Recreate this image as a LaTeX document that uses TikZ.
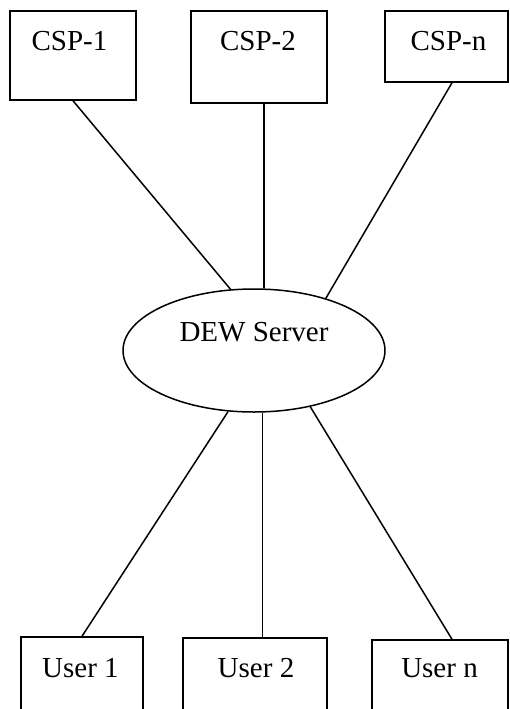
\documentclass[tikz,border=0pt]{standalone}
\usepackage{fontspec}
\setmainfont{Liberation Serif}
\usetikzlibrary{shapes.geometric}
\begin{document}
\begin{tikzpicture}[x=1pt,y=-1pt,
  line width=1.5pt,
  box/.style={draw, rectangle, inner sep=0pt, line width=1.5pt},
  lbl/.style={anchor=base, inner sep=0pt, font=\fontsize{29}{34}\selectfont},
  link/.style={line width=1.5pt}]
\useasboundingbox (0,0) rectangle (510,709);
\clip (0,0) rectangle (510,709);
% top boxes
\node[box, minimum width=126pt, minimum height=89pt] (c1) at (73,55.5) {};
\node[box, minimum width=136pt, minimum height=92pt] (c2) at (259,57) {};
\node[box, minimum width=123pt, minimum height=71pt] (cn) at (446.5,46.5) {};
\node[lbl] (t1) at (69.5,50.5) {CSP-1};
\node[lbl] (t2) at (258,50.5) {CSP-2};
\node[lbl] (tn) at (448.5,50.5) {CSP-n};
% server
\node[draw, ellipse, inner sep=0pt, minimum width=262pt, minimum height=123pt, line width=1.5pt] (dew) at (254,350.5) {};
\node[lbl] (td) at (254,341.5) {DEW Server};
% bottom boxes
\node[box, minimum width=122pt, minimum height=75pt] (u1) at (82,674.5) {};
\node[box, minimum width=144pt, minimum height=74pt] (u2) at (255,675) {};
\node[box, minimum width=136pt, minimum height=72pt] (un) at (440,676) {};
\node[lbl] (s1) at (80.5,677) {User 1};
\node[lbl] (s2) at (256,677) {User 2};
\node[lbl] (sn) at (439.5,677.5) {User n};
% connectors
\draw[link] (c1.south) -- (dew.111.3);
\draw[link] (dew.81.7) -- (dew.81.7 |- c2.south);
\draw[link] ([xshift=5.5pt]cn.south) -- (dew.36.2);
\draw[link] (dew.247.1) -- (u1.north);
\draw[link] (dew.278.3) -- (dew.278.3 |- u2.north);
\draw[link] (dew.315.7) -- ([xshift=12pt]un.north);
\end{tikzpicture}
\end{document}
